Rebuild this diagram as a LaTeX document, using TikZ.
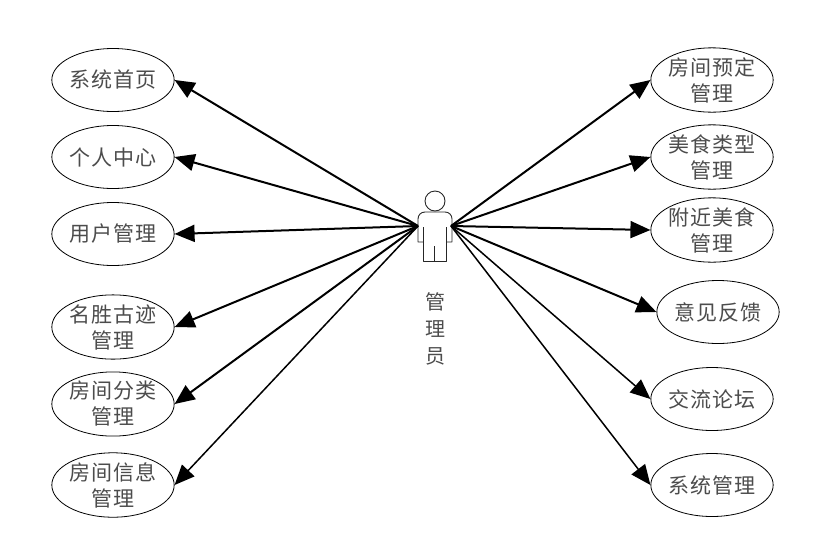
\documentclass[tikz,border=0pt]{standalone}
\usepackage{fontspec}
\setmainfont{Noto Sans CJK SC}
\usetikzlibrary{arrows.meta,shapes.geometric}
\tikzset{
  usecase/.style={draw=black,line width=0.8pt,ellipse,minimum width=122pt,minimum height=63pt,inner sep=0pt,align=center,font=\fontsize{21}{26}\selectfont\addfontfeatures{LetterSpace=4},text=black!70},
  link/.style={draw=black,line width=2pt,-{Triangle[length=20pt,width=17pt]}},
  thinlink/.style={link,line width=1.5pt},
  figure/.style={draw=black!85,line width=0.9pt,line join=round},
}
\begin{document}
\begin{tikzpicture}[x=1pt,y=-1pt]
\useasboundingbox (0,0) rectangle (818,557);
\node[usecase] (a1) at (113,80) {系统首页};
\node[usecase] (a2) at (113,157) {个人中心};
\node[usecase] (a3) at (113,234) {用户管理};
\node[usecase] (a4) at (113,327) {名胜古迹\\管理};
\node[usecase] (a5) at (113,404) {房间分类\\管理};
\node[usecase] (a6) at (113,485) {房间信息\\管理};
\node[usecase] (b1) at (712,80) {房间预定\\管理};
\node[usecase] (b2) at (712,157) {美食类型\\管理};
\node[usecase] (b3) at (712,230) {附近美食\\管理};
\node[usecase] (b4) at (718,312) {意见反馈};
\node[usecase] (b5) at (712,399) {交流论坛};
\node[usecase] (b6) at (712,485) {系统管理};
\node[draw=black!85,line width=0.9pt,circle,minimum size=20pt,inner sep=0pt] (head) at (435,201) {};
\draw[figure] (423,242) -- (418,242) -- (418,219) .. controls (418,215) and (421,212) .. (425,212) -- (445,212) .. controls (449,212) and (452,215) .. (452,219) -- (452,242) -- (446,242);
\draw[figure] (423,227) -- (423,261) -- (446,261) -- (446,227) (434.5,246) -- (434.5,261);
\node[font=\fontsize{20}{27}\selectfont,text=black!70,align=center] (lab) at (435,329) {管\\理\\员};
\coordinate (L) at (418,226);
\coordinate (R) at (451,226);
\draw[link] (L) -- (a1.east);
\draw[link] (L) -- (a2.east);
\draw[link] (L) -- (a3.east);
\draw[link] (L) -- (a4.east);
\draw[link] (L) -- (a5.east);
\draw[thinlink] (L) -- (a6.east);
\draw[link] (R) -- (b1.west);
\draw[link] (R) -- (b2.west);
\draw[link] (R) -- (b3.west);
\draw[link] (R) -- (b4.west);
\draw[thinlink] (R) -- (b5.west);
\draw[thinlink] (R) -- (b6.west);
\end{tikzpicture}
\end{document}
